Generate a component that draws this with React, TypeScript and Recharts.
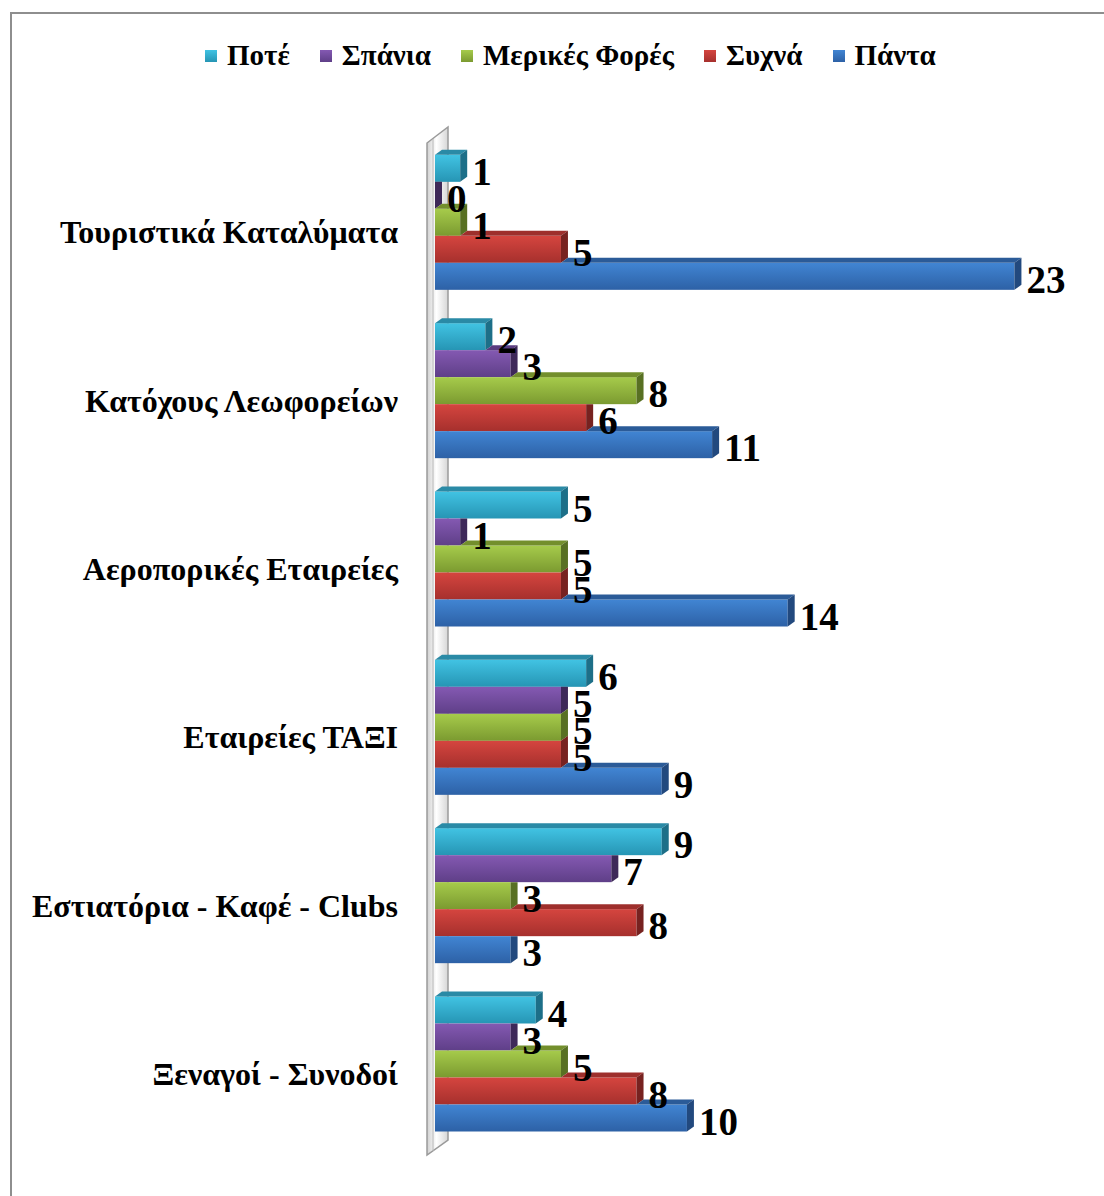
import React from 'react';
import { BarChart, Bar, XAxis, YAxis, LabelList, ReferenceArea } from 'recharts';

const categories = [
  'Τουριστικά Καταλύματα',
  'Κατόχους Λεωφορείων',
  'Αεροπορικές Εταιρείες',
  'Εταιρείες ΤΑΞΙ',
  'Εστιατόρια - Καφέ - Clubs',
  'Ξεναγοί - Συνοδοί',
];
const poteValues = [1, 2, 5, 6, 9, 4];
const spaniaValues = [0, 3, 1, 5, 7, 3];
const merikesValues = [1, 8, 5, 5, 3, 5];
const syxnaValues = [5, 6, 5, 5, 8, 8];
const pantaValues = [23, 11, 14, 9, 3, 10];
const seriesNames = ['Ποτέ', 'Σπάνια', 'Μερικές Φορές', 'Συχνά', 'Πάντα'];
const seriesKeys = ['pote', 'spania', 'merikes', 'syxna', 'panta'];
const seriesValues = [poteValues, spaniaValues, merikesValues, syxnaValues, pantaValues];

const COLORS = [
  { top: '#41c3e3', bottom: '#2695b4', side: '#1d6f88', roof: '#2a8aa6' },
  { top: '#8459b2', bottom: '#5f3f88', side: '#3e2959', roof: '#5a3c80' },
  { top: '#a6cb4b', bottom: '#7b9a30', side: '#587023', roof: '#738f2c' },
  { top: '#d5453f', bottom: '#a6302d', side: '#772220', roof: '#9e2f2c' },
  { top: '#4185d3', bottom: '#2d61a6', side: '#22497e', roof: '#2b5b98' },
];

const data = categories.map((c, i) => {
  const row: any = { cat: c };
  seriesKeys.forEach((k, j) => (row[k] = seriesValues[j][i]));
  return row;
});

const FONT = "'Liberation Serif', 'Times New Roman', serif";
const DX = 7;
const DY = 5;

function makeShape(idx: number) {
  const upperKey = idx > 0 ? seriesKeys[idx - 1] : null;
  const c = COLORS[idx];
  return (p: any) => {
    const { x, y, width, height, payload } = p;
    const v = payload[seriesKeys[idx]];
    const ppu = v > 0 ? width / v : 1;
    const w = Math.max(0, width);
    const h = height;
    const xe = x + w;
    const uw = upperKey ? payload[upperKey] * ppu : -1;
    let roof: string | null = null;
    if (uw < 0) {
      roof = `${x},${y} ${xe},${y} ${xe + DX},${y - DY} ${x + DX},${y - DY}`;
    } else if (w > uw + 0.5) {
      roof = `${x + uw},${y} ${xe},${y} ${xe + DX},${y - DY} ${x + uw + DX},${y - DY}`;
    }
    const clipped = uw > w + 0.5;
    const side = clipped
      ? `${xe},${y} ${xe + DX},${y} ${xe + DX},${y + h - DY} ${xe},${y + h}`
      : `${xe},${y} ${xe + DX},${y - DY} ${xe + DX},${y + h - DY} ${xe},${y + h}`;
    return (
      <g>
        {w > 0 && <rect x={x} y={y} width={w} height={h} fill={`url(#front${idx})`} />}
        {roof && <polygon points={roof} fill={c.roof} />}
        <polygon points={side} fill={c.side} />
      </g>
    );
  };
}

const ValueLabel = (p: any) => {
  const { x, y, width, height, value } = p;
  return (
    <text
      x={x + Math.max(0, width) + DX + 5}
      y={y + height / 2 + 3}
      dominantBaseline="central"
      fontFamily={FONT}
      fontWeight="bold"
      fontSize={39}
      fill="#000"
    >
      {value}
    </text>
  );
};

const CatTick = (p: any) => {
  const { x, y, payload } = p;
  return (
    <text
      x={x}
      y={y + 10}
      textAnchor="end"
      dominantBaseline="central"
      fontFamily={FONT}
      fontWeight="bold"
      fontSize={32}
      fill="#000"
    >
      {payload.value}
    </text>
  );
};

const WallShape = (p: any) => {
  const { x, y, height } = p;
  const pts = `${x - 8},${y + 5} ${x + 13},${y - 11} ${x + 13},${y + height - 8} ${x - 8},${y + height + 7}`;
  return (
    <g>
      <polygon points={pts} fill="url(#wallGrad)" stroke="#9a9a9a" strokeWidth={1.5} />
      <line x1={x - 2} y1={y + 1} x2={x - 2} y2={y + height + 3} stroke="#b8b8b8" strokeWidth={1} />
    </g>
  );
};

export default function App() {
  return (
    <div style={{ position: 'absolute', left: 0, top: 0, width: 1104, height: 1196, overflow: 'hidden', background: '#fff' }}>
      <div
        style={{
          position: 'absolute',
          left: 10,
          top: 12,
          width: 1300,
          height: 1400,
          borderTop: '2px solid #8e8e8e',
          borderLeft: '2px solid #8e8e8e',
        }}
      />
      <div
        style={{
          position: 'absolute',
          left: 205,
          top: 39,
          display: 'flex',
          alignItems: 'center',
          fontFamily: FONT,
          fontWeight: 'bold',
          fontSize: 29,
          color: '#000',
          whiteSpace: 'nowrap',
        }}
      >
        {seriesNames.map((n, i) => (
          <div key={n} style={{ display: 'flex', alignItems: 'center', marginRight: 30 }}>
            <span
              style={{
                display: 'inline-block',
                width: 12,
                height: 12,
                background: `linear-gradient(${COLORS[i].top}, ${COLORS[i].bottom})`,
                marginRight: 10,
              }}
            />
            <span>{n}</span>
          </div>
        ))}
      </div>
      <div style={{ position: 'absolute', left: 0, top: 0 }}>
        <BarChart
          width={1104}
          height={1196}
          data={data}
          layout="vertical"
          margin={{ top: 138, right: 14, bottom: 48, left: 0 }}
          barCategoryGap="10%"
          barGap={0}
        >
          <defs>
            {COLORS.map((c, i) => (
              <linearGradient key={i} id={`front${i}`} x1="0" y1="0" x2="0" y2="1">
                <stop offset="0%" stopColor={c.top} />
                <stop offset="100%" stopColor={c.bottom} />
              </linearGradient>
            ))}
            <linearGradient id="wallGrad" x1="0" y1="0" x2="1" y2="0">
              <stop offset="0%" stopColor="#d0d0d0" />
              <stop offset="45%" stopColor="#ffffff" />
              <stop offset="100%" stopColor="#d6d6d6" />
            </linearGradient>
          </defs>
          <XAxis type="number" domain={[0, 26]} hide />
          <YAxis
            type="category"
            dataKey="cat"
            width={435}
            axisLine={false}
            tickLine={false}
            tickSize={0}
            tickMargin={37}
            tick={<CatTick />}
          />
          <ReferenceArea x1={0} ifOverflow="visible" shape={<WallShape />} fill="none" />
          {seriesKeys.map((k, i) => (
            <Bar
              key={k}
              dataKey={k}
              name={seriesNames[i]}
              isAnimationActive={false}
              shape={makeShape(i)}
            >
              <LabelList dataKey={k} content={<ValueLabel />} />
            </Bar>
          ))}
        </BarChart>
      </div>
    </div>
  );
}
